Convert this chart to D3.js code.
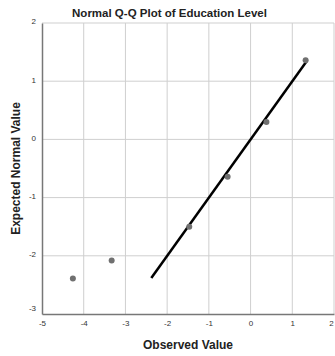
<!DOCTYPE html>
<html>
<head>
<meta charset="utf-8">
<script src="https://cdn.jsdelivr.net/npm/d3@7"></script>
<style>
  body { margin: 0; background: #fff; }
  text { font-family: "Liberation Sans", Arial, sans-serif; }
</style>
</head>
<body>
<script>
const observed = [-4.26, -3.33, -1.47, -0.55, 0.38, 1.32];
const expected = [-2.39, -2.08, -1.50, -0.64, 0.30, 1.36];
const refLine = [-2.38, 1.34];
const xTicks = [-5, -4, -3, -2, -1, 0, 1, 2];
const yTicks = [-3, -2, -1, 0, 1, 2];

const width = 335, height = 356;
const margin = { top: 23, right: 1, bottom: 42, left: 42 };

const svg = d3.select('body').append('svg')
  .attr('width', width)
  .attr('height', height);

const x = d3.scaleLinear().domain([-5, 2]).range([margin.left, width - margin.right]);
const y = d3.scaleLinear().domain([-3, 2]).range([height - margin.bottom, margin.top]);
const fmt = d => String(d);

// grid
svg.append('g').selectAll('line')
  .data(xTicks.slice(1))
  .join('line')
  .attr('x1', d => x(d)).attr('x2', d => x(d))
  .attr('y1', y(2)).attr('y2', y(-3))
  .attr('stroke', '#cfcfcf').attr('stroke-width', 1);

svg.append('g').selectAll('line')
  .data(yTicks.slice(1))
  .join('line')
  .attr('x1', x(-5)).attr('x2', x(2))
  .attr('y1', d => y(d)).attr('y2', d => y(d))
  .attr('stroke', '#cfcfcf').attr('stroke-width', 1);

// axes
const xAxis = svg.append('g')
  .attr('transform', `translate(0,${y(-3)})`)
  .call(d3.axisBottom(x).tickValues(xTicks).tickFormat(fmt).tickSize(0).tickPadding(6));
const yAxis = svg.append('g')
  .attr('transform', `translate(${x(-5)},0)`)
  .call(d3.axisLeft(y).tickValues(yTicks).tickFormat(fmt).tickSize(0).tickPadding(6));

[xAxis, yAxis].forEach(a => {
  a.select('.domain').attr('stroke', '#777').attr('stroke-width', 1.5);
  a.selectAll('text').attr('fill', '#333').style('font-size', '8px');
});
yAxis.selectAll('text').attr('dy', '0.1em');
yAxis.selectAll('.tick').filter(d => d === -3).select('text').attr('dy', '-0.5em');
xAxis.selectAll('.tick').filter(d => d === 2).select('text').attr('text-anchor', 'end').attr('dx', '-0.1em');

// reference line
svg.append('line')
  .attr('x1', x(refLine[0])).attr('y1', y(refLine[0]))
  .attr('x2', x(refLine[1])).attr('y2', y(refLine[1]))
  .attr('stroke', '#000').attr('stroke-width', 2.5);

// points
svg.append('g').selectAll('circle')
  .data(observed)
  .join('circle')
  .attr('cx', d => x(d))
  .attr('cy', (d, i) => y(expected[i]))
  .attr('r', 3)
  .attr('fill', '#707070');

// title and axis labels
svg.append('text')
  .attr('x', width / 2 + 2).attr('y', 17)
  .attr('text-anchor', 'middle')
  .style('font-size', '11.5px').style('font-weight', 'bold')
  .attr('fill', '#222')
  .text('Normal Q-Q Plot of Education Level');

svg.append('text')
  .attr('x', (x(-5) + x(2)) / 2).attr('y', 349)
  .attr('text-anchor', 'middle')
  .style('font-size', '12px').style('font-weight', 'bold')
  .attr('fill', '#222')
  .text('Observed Value');

svg.append('text')
  .attr('transform', `translate(20,${(y(2) + y(-3)) / 2}) rotate(-90)`)
  .attr('text-anchor', 'middle')
  .style('font-size', '12px').style('font-weight', 'bold')
  .attr('fill', '#222')
  .text('Expected Normal Value');
</script>
</body>
</html>
